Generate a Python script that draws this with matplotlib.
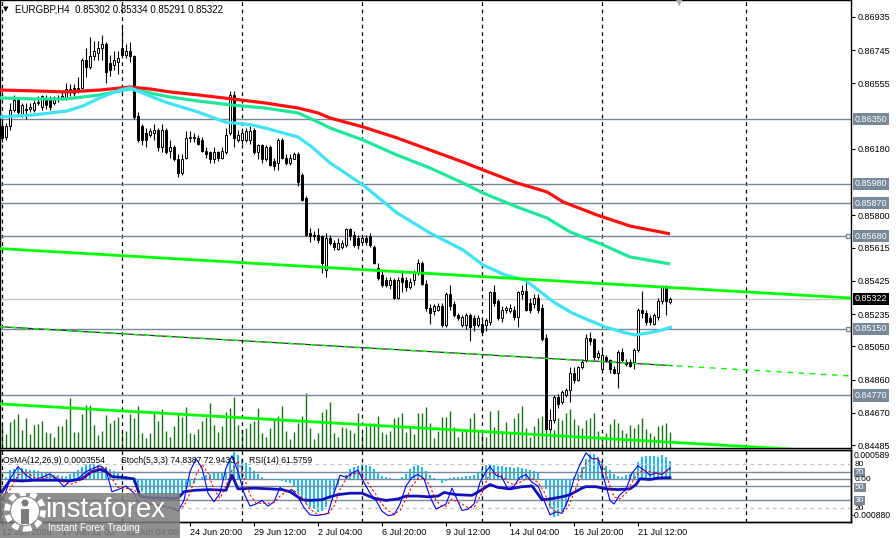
import numpy as np
import matplotlib.pyplot as plt
from matplotlib.patches import Rectangle, Ellipse

plt.rcParams['font.family'] = ['Liberation Sans', 'DejaVu Sans']

# ---- EURGBP H4 candles ----
opens = [0.8631, 0.8625, 0.8631, 0.8640, 0.8646, 0.8637, 0.8640, 0.8641, 0.8640, 0.8644,
         0.8642, 0.8647, 0.8646, 0.8644, 0.8647, 0.8647, 0.8647, 0.8651, 0.8653, 0.8652,
         0.8653, 0.8669, 0.8665, 0.8671, 0.8673, 0.8676, 0.8678, 0.8667, 0.8666, 0.8668,
         0.8676, 0.8672, 0.8674, 0.8671, 0.8637, 0.8631, 0.8627, 0.8626, 0.8627, 0.8629,
         0.8619, 0.8629, 0.8617, 0.8619, 0.8612, 0.8604, 0.8613, 0.8624, 0.8624, 0.8624,
         0.8623, 0.8617, 0.8616, 0.8612, 0.8616, 0.8613, 0.8616, 0.8627, 0.8649, 0.8623,
         0.8623, 0.8623, 0.8623, 0.8629, 0.8616, 0.8620, 0.8612, 0.8619, 0.8611, 0.8610,
         0.8623, 0.8613, 0.8610, 0.8612, 0.8615, 0.8603, 0.8590, 0.8570, 0.8569, 0.8569,
         0.8568, 0.8549, 0.8567, 0.8564, 0.8561, 0.8562, 0.8563, 0.8572, 0.8569, 0.8567,
         0.8565, 0.8567, 0.8568, 0.8562, 0.8550, 0.8546, 0.8543, 0.8540, 0.8543, 0.8533,
         0.8544, 0.8543, 0.8539, 0.8543, 0.8547, 0.8553, 0.8541, 0.8527, 0.8525, 0.8526,
         0.8528, 0.8517, 0.8535, 0.8529, 0.8523, 0.8517, 0.8517, 0.8523, 0.8521, 0.8517,
         0.8518, 0.8517, 0.8519, 0.8536, 0.8531, 0.8521, 0.8526, 0.8525, 0.8526, 0.8522,
         0.8535, 0.8537, 0.8530, 0.8529, 0.8533, 0.8527, 0.8510, 0.8458, 0.8463, 0.8476,
         0.8473, 0.8477, 0.8480, 0.8490, 0.8486, 0.8493, 0.8497, 0.8510, 0.8509, 0.8499,
         0.8492, 0.8499, 0.8497, 0.8492, 0.8490, 0.8502, 0.8496, 0.8496, 0.8496, 0.8503,
         0.8526, 0.8524, 0.8521, 0.8518, 0.8522, 0.8531, 0.8539, 0.85302]
highs = [0.8635, 0.8633, 0.8644, 0.8649, 0.8647, 0.8644, 0.8644, 0.8644, 0.8646, 0.8648,
         0.8649, 0.8649, 0.8648, 0.8648, 0.8649, 0.8651, 0.8656, 0.8655, 0.8655, 0.8659,
         0.8670, 0.8676, 0.8682, 0.8680, 0.8680, 0.8683, 0.8679, 0.8672, 0.8674, 0.8674,
         0.8688, 0.8678, 0.8679, 0.8672, 0.8639, 0.8632, 0.8630, 0.8630, 0.8632, 0.8630,
         0.8632, 0.8630, 0.8623, 0.8620, 0.8615, 0.8615, 0.8628, 0.8628, 0.8627, 0.8626,
         0.8625, 0.8619, 0.8617, 0.8619, 0.8617, 0.8619, 0.8630, 0.8651, 0.8651, 0.8629,
         0.8630, 0.8630, 0.8631, 0.8630, 0.8621, 0.8621, 0.8620, 0.8620, 0.8613, 0.8624,
         0.8624, 0.8615, 0.8615, 0.8616, 0.8616, 0.8604, 0.8591, 0.8573, 0.8571, 0.8573,
         0.8569, 0.8570, 0.8569, 0.8566, 0.8567, 0.8566, 0.8573, 0.8573, 0.8571, 0.8569,
         0.8569, 0.8569, 0.8570, 0.8563, 0.8553, 0.8548, 0.8545, 0.8545, 0.8544, 0.8545,
         0.8549, 0.8545, 0.8544, 0.8549, 0.8555, 0.8554, 0.8543, 0.8529, 0.8529, 0.8530,
         0.8530, 0.8536, 0.8540, 0.8531, 0.8524, 0.8523, 0.8524, 0.8524, 0.8523, 0.8523,
         0.8520, 0.8521, 0.8537, 0.8540, 0.8532, 0.8528, 0.8528, 0.8529, 0.8528, 0.8537,
         0.8540, 0.8543, 0.8533, 0.8535, 0.8535, 0.8529, 0.8512, 0.8469, 0.8477, 0.8478,
         0.8480, 0.8481, 0.8493, 0.8493, 0.8494, 0.8498, 0.8512, 0.8513, 0.8510, 0.8503,
         0.8503, 0.8500, 0.8498, 0.8494, 0.8503, 0.8504, 0.8498, 0.8498, 0.8504, 0.8527,
         0.8537, 0.8526, 0.8523, 0.8524, 0.8533, 0.8540, 0.8540, 0.85334]
lows = [0.8622, 0.8623, 0.8629, 0.8639, 0.8637, 0.8636, 0.8635, 0.8639, 0.8639, 0.8643,
        0.8640, 0.8641, 0.8640, 0.8643, 0.8645, 0.8646, 0.8646, 0.8648, 0.8648, 0.8650,
        0.8653, 0.8659, 0.8664, 0.8669, 0.8669, 0.8669, 0.8656, 0.8660, 0.8663, 0.8661,
        0.8671, 0.8670, 0.8668, 0.8635, 0.8622, 0.8620, 0.8619, 0.8625, 0.8623, 0.8617,
        0.8616, 0.8615, 0.8613, 0.8611, 0.8602, 0.8603, 0.8612, 0.8622, 0.8622, 0.8620,
        0.8616, 0.8613, 0.8610, 0.8610, 0.8611, 0.8612, 0.8615, 0.8626, 0.8619, 0.8622,
        0.8621, 0.8622, 0.8621, 0.8615, 0.8612, 0.8610, 0.8611, 0.8608, 0.8606, 0.8606,
        0.8612, 0.8609, 0.8609, 0.8612, 0.8597, 0.8588, 0.8568, 0.8565, 0.8566, 0.8564,
        0.8547, 0.8545, 0.8563, 0.8560, 0.8560, 0.8561, 0.8562, 0.8566, 0.8562, 0.8561,
        0.8564, 0.8563, 0.8562, 0.8552, 0.8543, 0.8539, 0.8539, 0.8538, 0.8532, 0.8532,
        0.8536, 0.8537, 0.8538, 0.8540, 0.8546, 0.8540, 0.8525, 0.8518, 0.8523, 0.8525,
        0.8516, 0.8516, 0.8526, 0.8522, 0.8520, 0.8516, 0.8515, 0.8508, 0.8514, 0.8516,
        0.8512, 0.8514, 0.8517, 0.8528, 0.8520, 0.8519, 0.8524, 0.8524, 0.8520, 0.8516,
        0.8532, 0.8525, 0.8524, 0.8527, 0.8524, 0.8508, 0.8457, 0.8457, 0.8461, 0.8470,
        0.8472, 0.8476, 0.8473, 0.8484, 0.8485, 0.8492, 0.8496, 0.8506, 0.8497, 0.8498,
        0.8490, 0.8496, 0.8490, 0.8489, 0.8481, 0.8496, 0.8494, 0.8493, 0.8492, 0.8502,
        0.8521, 0.8517, 0.8517, 0.8517, 0.8520, 0.8529, 0.8523, 0.85291]
closes = [0.8624, 0.8631, 0.8640, 0.8646, 0.8639, 0.8643, 0.8641, 0.8642, 0.8644, 0.8645,
          0.8648, 0.8643, 0.8642, 0.8647, 0.8647, 0.8648, 0.8652, 0.8652, 0.8650, 0.8653,
          0.8669, 0.8665, 0.8671, 0.8674, 0.8676, 0.8678, 0.8662, 0.8663, 0.8669, 0.8670,
          0.8672, 0.8674, 0.8671, 0.8636, 0.8623, 0.8623, 0.8623, 0.8628, 0.8629, 0.8619,
          0.8629, 0.8616, 0.8619, 0.8612, 0.8604, 0.8612, 0.8624, 0.8625, 0.8625, 0.8621,
          0.8617, 0.8615, 0.8612, 0.8616, 0.8613, 0.8617, 0.8626, 0.8649, 0.8624, 0.8626,
          0.8627, 0.8628, 0.8628, 0.8616, 0.8620, 0.8612, 0.8619, 0.8609, 0.8608, 0.8623,
          0.8613, 0.8610, 0.8613, 0.8615, 0.8599, 0.8589, 0.8569, 0.8568, 0.8568, 0.8566,
          0.8553, 0.8567, 0.8564, 0.8562, 0.8564, 0.8564, 0.8572, 0.8568, 0.8563, 0.8563,
          0.8567, 0.8565, 0.8563, 0.8553, 0.8544, 0.8540, 0.8540, 0.8543, 0.8533, 0.8543,
          0.8542, 0.8539, 0.8542, 0.8547, 0.8553, 0.8541, 0.8527, 0.8524, 0.8528, 0.8528,
          0.8517, 0.8535, 0.8528, 0.8523, 0.8521, 0.8522, 0.8523, 0.8516, 0.8517, 0.8521,
          0.8513, 0.8520, 0.8536, 0.8530, 0.8521, 0.8526, 0.8527, 0.8527, 0.8522, 0.8536,
          0.8537, 0.8526, 0.8526, 0.8533, 0.8526, 0.8509, 0.8458, 0.8463, 0.8476, 0.8472,
          0.8479, 0.8480, 0.8490, 0.8486, 0.8493, 0.8496, 0.8510, 0.8508, 0.8499, 0.8501,
          0.8500, 0.8497, 0.8492, 0.8490, 0.8502, 0.8497, 0.8495, 0.8494, 0.8503, 0.8526,
          0.8524, 0.8519, 0.8519, 0.8523, 0.8531, 0.8539, 0.8531, 0.85322]
volumes = [23, 14, 26, 29, 34, 18, 30, 14, 23, 24, 27, 16, 15, 11, 22, 22, 29, 50, 16, 16,
           34, 43, 43, 23, 13, 17, 33, 25, 28, 31, 16, 17, 34, 30, 42, 15, 10, 15, 35, 27,
           39, 17, 11, 22, 35, 31, 41, 15, 14, 19, 27, 31, 45, 23, 16, 22, 36, 40, 51, 23,
           18, 20, 25, 27, 40, 15, 11, 20, 29, 32, 42, 17, 9, 16, 25, 32, 55, 20, 9, 15,
           36, 39, 46, 15, 11, 21, 20, 18, 15, 35, 15, 22, 25, 25, 32, 16, 14, 17, 30, 31,
           35, 16, 21, 14, 35, 35, 41, 25, 10, 17, 31, 31, 37, 21, 11, 17, 18, 30, 35, 17,
           15, 11, 37, 21, 38, 16, 26, 16, 30, 35, 42, 20, 11, 22, 30, 32, 41, 29, 18, 30,
           28, 35, 39, 29, 23, 20, 28, 30, 35, 17, 12, 15, 24, 29, 25, 18, 15, 23, 20, 24,
           30, 19, 15, 12, 22, 23, 25, 16]

# moving averages (sampled along the lines)
ma_red_x = [-0.5, 7.75, 16.25, 24.5, 32, 37, 42, 49, 57.5, 65.75, 74, 79, 82, 90.25, 98.75,
            107, 115.25, 120.25, 128.75, 136.25, 140.25, 148.75, 157, 167]
ma_red = [0.86517, 0.86512, 0.86506, 0.86517, 0.86534, 0.86523, 0.86506, 0.86489, 0.86466,
          0.86443, 0.86414, 0.86386, 0.86357, 0.86306, 0.86243, 0.86174, 0.86105, 0.86060,
          0.85985, 0.85934, 0.85877, 0.85802, 0.85739, 0.85694]
ma_green_x = [-0.5, 7.75, 16.25, 24.5, 32, 37, 42, 49, 57.5, 65.75, 74, 79, 82, 90.25, 98.75,
              107, 115.25, 120.25, 128.75, 136.25, 142, 150.25, 157, 167]
ma_green = [0.86472, 0.86466, 0.86466, 0.86489, 0.86523, 0.86500, 0.86477, 0.86454, 0.86431,
            0.86414, 0.86386, 0.86334, 0.86300, 0.86231, 0.86145, 0.86071, 0.85985, 0.85928,
            0.85848, 0.85785, 0.85705, 0.85631, 0.85562, 0.85522]
ma_cyan_x = [-0.5, 7.75, 16.25, 20.25, 24.5, 29.5, 32, 37, 40.75, 49, 55.75, 62.5, 65.75, 74,
             77.5, 82, 90.25, 98.75, 107, 115.25, 120.25, 125.75, 130.75, 134, 138.25, 142.5,
             146.5, 150.75, 155, 158.25, 161.5, 165, 167.5]
ma_cyan = [0.86363, 0.86374, 0.86397, 0.86426, 0.86472, 0.86517, 0.86529, 0.86483, 0.86449,
           0.86391, 0.86334, 0.86317, 0.86300, 0.86248, 0.86191, 0.86100, 0.85974, 0.85814,
           0.85699, 0.85602, 0.85516, 0.85459, 0.85430, 0.85373, 0.85299, 0.85242, 0.85202,
           0.85162, 0.85133, 0.85116, 0.85127, 0.85144, 0.85162]

# channel lines (start / end of the visible window)
chan_x = [-0.5, 212.25]
chan_upper = [0.85610, 0.85327]
chan_mid = [0.85163, 0.84881]
chan_lower = [0.84721, 0.84443]

levels = [0.86350, 0.85980, 0.85870, 0.85680, 0.85150, 0.84770]
boxed_ends = [0.85680, 0.85150]
price_ticks = [0.86935, 0.86745, 0.86555, 0.86180, 0.85800, 0.85615, 0.85425, 0.85235,
               0.85050, 0.84860, 0.84670, 0.84485]
week_bars = [0, 30, 60, 90, 120, 150, 186]
date_bars = [0, 15, 31, 47, 63, 79, 95, 111, 127, 143, 159]
date_labels = ['12 Jun 2026', '17 Jun 12:00', '22 Jun 04:00', '24 Jun 20:00', '29 Jun 12:00',
               '2 Jul 04:00', '6 Jul 20:00', '9 Jul 12:00', '14 Jul 04:00', '16 Jul 20:00',
               '21 Jul 12:00']

# ---- sub window: OsMA(12,26,9), Stoch(5,3,3), RSI(14) ----
osma = [0.00002, 0.00004, 0.00018, 0.00020, 0.00022, 0.00022, 0.00020, 0.00018, 0.00018, 0.00016,
        0.00014, 0.00012, 0.00010, 0.00008, 0.00008, 0.00006, 0.00006, 0.00010, 0.00014, 0.00018,
        0.00024, 0.00029, 0.00031, 0.00031, 0.00029, 0.00027, 0.00024, 0.00020, 0.00016, 0.00012,
        0.00008, 0.00006, 0.00002, -0.00008, -0.00018, -0.00027, -0.00033, -0.00037, -0.00039,
        -0.00041, -0.00041, -0.00039, -0.00037, -0.00035, -0.00033, -0.00027, -0.00020, -0.00014,
        -0.00008, -0.00002, 0.00004, 0.00008, 0.00010, 0.00012, 0.00014, 0.00012, 0.00014,
        0.00041, 0.00055, 0.00049, 0.00041, 0.00033, 0.00024, 0.00016, 0.00010, 0.00004, 0.0,
        -0.00002, -0.00002, 0.0, -0.00004, -0.00006, -0.00008, -0.00016, -0.00029, -0.00041,
        -0.00051, -0.00057, -0.00061, -0.00067, -0.00065, -0.00057, -0.00041, -0.00029, -0.00012,
        0.0, 0.00008, 0.00020, 0.00024, 0.00027, 0.00029, 0.00029, 0.00027, 0.00020, 0.00012,
        0.00006, 0.00004, 0.00002, 0.0, -0.00002, 0.00004, 0.00010, 0.00020, 0.00027, 0.00029,
        0.00024, 0.00016, 0.00008, 0.00002, -0.00002, -0.00008, -0.00004, 0.00002, 0.00004,
        0.00004, 0.00004, 0.00006, 0.00006, 0.00008, 0.00012, 0.00020, 0.00029, 0.00031, 0.00029,
        0.00027, 0.00027, 0.00024, 0.00024, 0.00022, 0.00024, 0.00022, 0.00020, 0.00018, 0.00016,
        0.00014, 0.0, -0.00020, -0.00061, -0.00078, -0.00076, -0.00067, -0.00057, -0.00037,
        0.00004, 0.00010, 0.00024, 0.00041, 0.00051, 0.00051, 0.00045, 0.00037, 0.00027, 0.00018,
        0.00010, 0.00006, 0.00004, 0.00008, 0.00010, 0.00014, 0.00035, 0.00045, 0.00047, 0.00047,
        0.00047, 0.00045, 0.00049, 0.00045, 0.00036]
stoch_x = [0.3, 2, 4, 6, 8, 10, 12, 14, 15.5, 17, 19, 21, 23, 24.5, 26, 27.5, 29, 31, 33, 34,
           36, 38, 40, 42, 44, 45.5, 47, 48.5, 50, 51.5, 53, 54.5, 56, 57.5, 59, 60.5, 62, 63.5,
           65, 66.5, 68, 69.5, 71, 72.5, 74, 75.5, 77, 78.5, 80, 81.5, 83, 84.5, 86, 87.5, 89,
           90.5, 92, 93.5, 95, 96.5, 98, 99.5, 101, 102.5, 104, 105.5, 107, 108.5, 110, 111,
           112.5, 115, 116.5, 118, 119.5, 121, 122, 123.5, 125, 126.5, 128, 129.5, 131, 132.5,
           134, 135.5, 137, 138.5, 140, 141.5, 143, 144.5, 146, 147.5, 149, 150.5, 152, 153,
           154.5, 156, 157.5, 159, 160.5, 162, 163.5, 165, 167]
stoch_main = [30, 60, 77, 65, 58, 62, 67, 58, 49, 58, 60, 70, 75, 78, 72, 42, 45, 50, 40, 28,
              26, 24, 22, 20, 15, 30, 70, 88, 75, 40, 28, 40, 75, 92, 70, 40, 22, 25, 30, 22,
              28, 48, 42, 45, 35, 20, 10, 9, 10, 12, 40, 65, 62, 68, 72, 55, 40, 30, 15, 9,
              10, 25, 50, 62, 66, 60, 35, 18, 22, 25, 47, 16, 18, 25, 55, 70, 77, 65, 62, 45,
              50, 62, 66, 55, 50, 30, 10, 14, 12, 30, 60, 80, 96, 88, 88, 60, 30, 25, 38, 45,
              68, 78, 72, 65, 68, 66, 75]
stoch_signal = [35, 45, 65, 70, 62, 60, 63, 62, 55, 52, 56, 64, 72, 76, 75, 60, 48, 47, 45, 38,
                28, 25, 23, 21, 18, 22, 40, 65, 80, 68, 45, 33, 50, 72, 85, 62, 38, 26, 26, 26,
                27, 36, 42, 45, 40, 30, 18, 12, 10, 11, 22, 45, 60, 66, 68, 62, 50, 38, 25, 16,
                11, 16, 32, 50, 60, 62, 50, 30, 22, 22, 32, 25, 20, 20, 35, 55, 68, 68, 64, 55,
                52, 55, 60, 60, 55, 42, 22, 14, 13, 20, 40, 62, 82, 88, 88, 75, 50, 35, 32, 40,
                55, 68, 72, 70, 68, 67, 73]
rsi_x = [0, 2, 5, 8, 11, 14, 17, 20, 22.5, 24.5, 26, 27.5, 30, 33, 34.5, 36, 40, 44, 45.5, 48,
         52, 56, 57.5, 59, 63, 67, 70, 72, 75, 77, 80, 82, 84, 87, 90, 93, 96, 99, 101, 104,
         106.5, 109, 110.5, 113.5, 117.5, 120, 122, 124, 127, 130, 132.5, 135, 137, 140, 142,
         145, 146, 148.5, 151, 154, 157, 158.5, 159.5, 162, 164, 167]
rsi = [42, 58, 57, 58, 58, 58, 57, 60, 70, 73, 70, 63, 62, 60, 36, 34, 33, 33, 42, 44,
       45, 44, 65, 46, 47, 46, 45, 42, 31, 30, 31, 35, 38, 40, 40, 33, 30, 32, 36, 36,
       35, 36, 41, 38, 37, 45, 52, 48, 46, 49, 50, 31, 32, 35, 38, 47, 49, 49, 46, 45,
       46, 52, 60, 59, 61, 61.6]

W, H = 896, 538
LEVEL_GRAY = '#778899'


def rect(left, top, width, height):
    return [left / W, 1 - (top + height) / H, width / W, height / H]


def ftext(px, py, s, **kw):
    return fig.text(px / W, 1 - py / H, s, **kw)


fig = plt.figure(figsize=(W / 100, H / 100), dpi=100)
fig.patch.set_facecolor('white')

ax = fig.add_axes(rect(0, 0, 851, 448))
axv = ax.twinx()
ax.set_zorder(2)
axv.set_zorder(1)
ax.patch.set_visible(False)

bars = np.arange(len(closes))
o = np.array(opens)
c = np.array(closes)
xlim = (-0.5, 212.25)

# tick volumes
axv.vlines(bars, 0, volumes, color='#137513', lw=1)
axv.set_ylim(0, 448)
axv.set_xlim(*xlim)
axv.axis('off')

for b in week_bars:
    ax.axvline(b, color='black', lw=0.9, ls=(0, (3, 3)), zorder=1)
for lvl in levels:
    ax.axhline(lvl, color=LEVEL_GRAY, lw=1, zorder=1.5)
ax.axhline(closes[-1], color='#c8c8c8', lw=1, zorder=1.4)
ax.plot([211.4] * len(boxed_ends), boxed_ends, ls='none', marker='s', ms=3.5,
        mfc='white', mec=LEVEL_GRAY, mew=1, zorder=6)

# candles
ax.vlines(bars, lows, highs, color='black', lw=0.8, zorder=3)
body = np.maximum(np.abs(c - o), 0.00002)
ax.bar(bars, body, bottom=np.minimum(o, c), width=0.62,
       color=np.where(c >= o, 'white', 'black'), edgecolor='black', linewidth=0.7, zorder=4)

# MAs
ax.plot(ma_red_x, ma_red, color='#ff1010', lw=2.3, zorder=5, solid_capstyle='butt')
ax.plot(ma_green_x, ma_green, color='#1de89a', lw=2.3, zorder=5, solid_capstyle='butt')
ax.plot(ma_cyan_x, ma_cyan, color='#3fe3f4', lw=2.3, zorder=5, solid_capstyle='butt')

# channel
last_x = bars[-1] + 0.5
ax.plot(chan_x, chan_upper, color='#00ff00', lw=2, zorder=5)
ax.plot([chan_x[0], last_x], [chan_mid[0], np.interp(last_x, chan_x, chan_mid)],
        color='#303030', lw=0.9, zorder=5)
ax.plot(chan_x, chan_mid, color='#00ff00', lw=1, ls=(0, (4, 4)), zorder=5)
ax.plot(chan_x, chan_lower, color='#00ff00', lw=2, zorder=5)

ax.set_xlim(*xlim)
ax.set_ylim(0.84469, 0.87032)
ax.set_xticks([])
ax.yaxis.tick_right()
ax.set_yticks(price_ticks)
ax.set_yticklabels([f'{v:.5f}' for v in price_ticks])
ax.tick_params(axis='y', direction='out', length=3, width=0.8, labelsize=6.5, pad=2)
for sp in ax.spines.values():
    sp.set_color('black')
    sp.set_linewidth(1)

ytr = ax.get_yaxis_transform()
for lvl in levels:
    ax.text(1.0045, lvl, f'{lvl:.5f}', transform=ytr, ha='left', va='center', fontsize=6.5,
            color='white', bbox=dict(boxstyle='square,pad=0.18', fc=LEVEL_GRAY, ec='none'),
            zorder=7, clip_on=False)
ax.text(1.0045, closes[-1], f'{closes[-1]:.5f}', transform=ytr, ha='left', va='center',
        fontsize=6.5, color='white', bbox=dict(boxstyle='square,pad=0.18', fc='black', ec='none'),
        zorder=7, clip_on=False)

# ---- indicator window ----
ai = fig.add_axes(rect(0, 450, 851, 72))
ao = ai.twinx()
ai.set_zorder(2)
ao.set_zorder(1)
ai.patch.set_visible(False)

ao.bar(bars, osma, width=0.7, color='#22bdf2', zorder=2)
ao.axhline(0, color=LEVEL_GRAY, lw=1, zorder=1)
ao.set_ylim(-0.000880, 0.000589)
ao.set_yticks([])

for lv in (80, 20):
    ai.axhline(lv, color='#c4c4c4', lw=0.9, ls=(0, (3, 3)), zorder=1)
for lv in (70, 50, 30):
    ai.axhline(lv, color=LEVEL_GRAY, lw=1, zorder=1)
for b in week_bars:
    ai.axvline(b, color='black', lw=0.9, ls=(0, (3, 3)), zorder=1)
ai.plot(rsi_x, rsi, color='#1212b8', lw=2, zorder=3)
ai.plot(stoch_x, stoch_main, color='#0000ff', lw=0.8, zorder=4)
ai.plot(stoch_x, stoch_signal, color='#ff0000', lw=0.8, ls=(0, (2, 2)), zorder=4)

ai.set_xlim(*xlim)
ao.set_xlim(*xlim)
ai.set_ylim(0, 100)
ai.set_yticks([])
ai.set_xticks(date_bars)
ai.set_xticklabels(date_labels, fontsize=6.5)
for lab in ai.get_xticklabels():
    lab.set_ha('left')
ai.tick_params(axis='x', direction='out', length=3, width=0.8, pad=1)
for a in (ai, ao):
    for sp in a.spines.values():
        sp.set_color('black')
        sp.set_linewidth(1)

ai.text(3 / 851, 0.86, 'OsMA(12,26,9) 0.0003554', transform=ai.transAxes, fontsize=6.2,
        va='center', zorder=6)
ai.text(121 / 851, 0.86, 'Stoch(5,3,3) 74.8387 72.9433', transform=ai.transAxes, fontsize=6.2,
        va='center', zorder=6)
ai.text(249 / 851, 0.86, 'RSI(14) 61.5759', transform=ai.transAxes, fontsize=6.2, va='center',
        zorder=6)

box_kw = dict(boxstyle='square,pad=0.12', fc=LEVEL_GRAY, ec='none')
ftext(854, 456, '0.000589', fontsize=6.2, va='center')
ftext(855, 464, '80', fontsize=6, va='center')
ftext(855, 472.5, '70', fontsize=6, va='center', color='white', bbox=box_kw)
ftext(855, 479.5, '0.00', fontsize=6, va='center')
ftext(855, 487.5, '50', fontsize=6, va='center', color='white', bbox=box_kw)
ftext(855, 500, '30', fontsize=6, va='center', color='white', bbox=box_kw)
ftext(855, 508, '20', fontsize=6, va='center')
ftext(852, 516, '-0.000880', fontsize=6.2, va='center')

# header
ftext(3, 9, '\u25bc', fontsize=5, va='center', family='DejaVu Sans')
ftext(15, 9, f'EURGBP,H4  {opens[-1]:.5f} {highs[-1]:.5f} {lows[-1]:.5f} {closes[-1]:.5f}',
      fontsize=7, va='center')
ftext(676, 3, '\u25bc', fontsize=6, va='center', color='#a8a8a8', family='DejaVu Sans')

# watermark
fig.patches.append(Rectangle((0, 0), 180 / W, 45 / H, transform=fig.transFigure,
                             fc='#7c7c7c', ec='none', alpha=0.85, zorder=10))
fig.patches.append(Ellipse((25 / W, 1 - 511 / H), 36 / W, 36 / H, transform=fig.transFigure,
                           fc='none', ec='white', lw=4, ls=(0, (1.2, 0.8)), zorder=11))
fig.patches.append(Ellipse((25 / W, 1 - 511 / H), 28 / W, 28 / H, transform=fig.transFigure,
                           fc='white', ec='none', zorder=11))
fig.patches.append(Ellipse((25 / W, 1 - 503 / H), 7 / W, 7 / H, transform=fig.transFigure,
                           fc='#7c7c7c', ec='none', zorder=12))
fig.patches.append(Rectangle((21 / W, 1 - 524 / H), 8 / W, 15 / H, transform=fig.transFigure,
                             fc='#7c7c7c', ec='none', zorder=12))
ftext(45, 510, 'instaforex', fontsize=20, color='white', va='center', zorder=12)
ftext(48, 528, 'Instant Forex Trading', fontsize=7, color='white', va='center', zorder=12)

fig.savefig('out.png', dpi=100)
